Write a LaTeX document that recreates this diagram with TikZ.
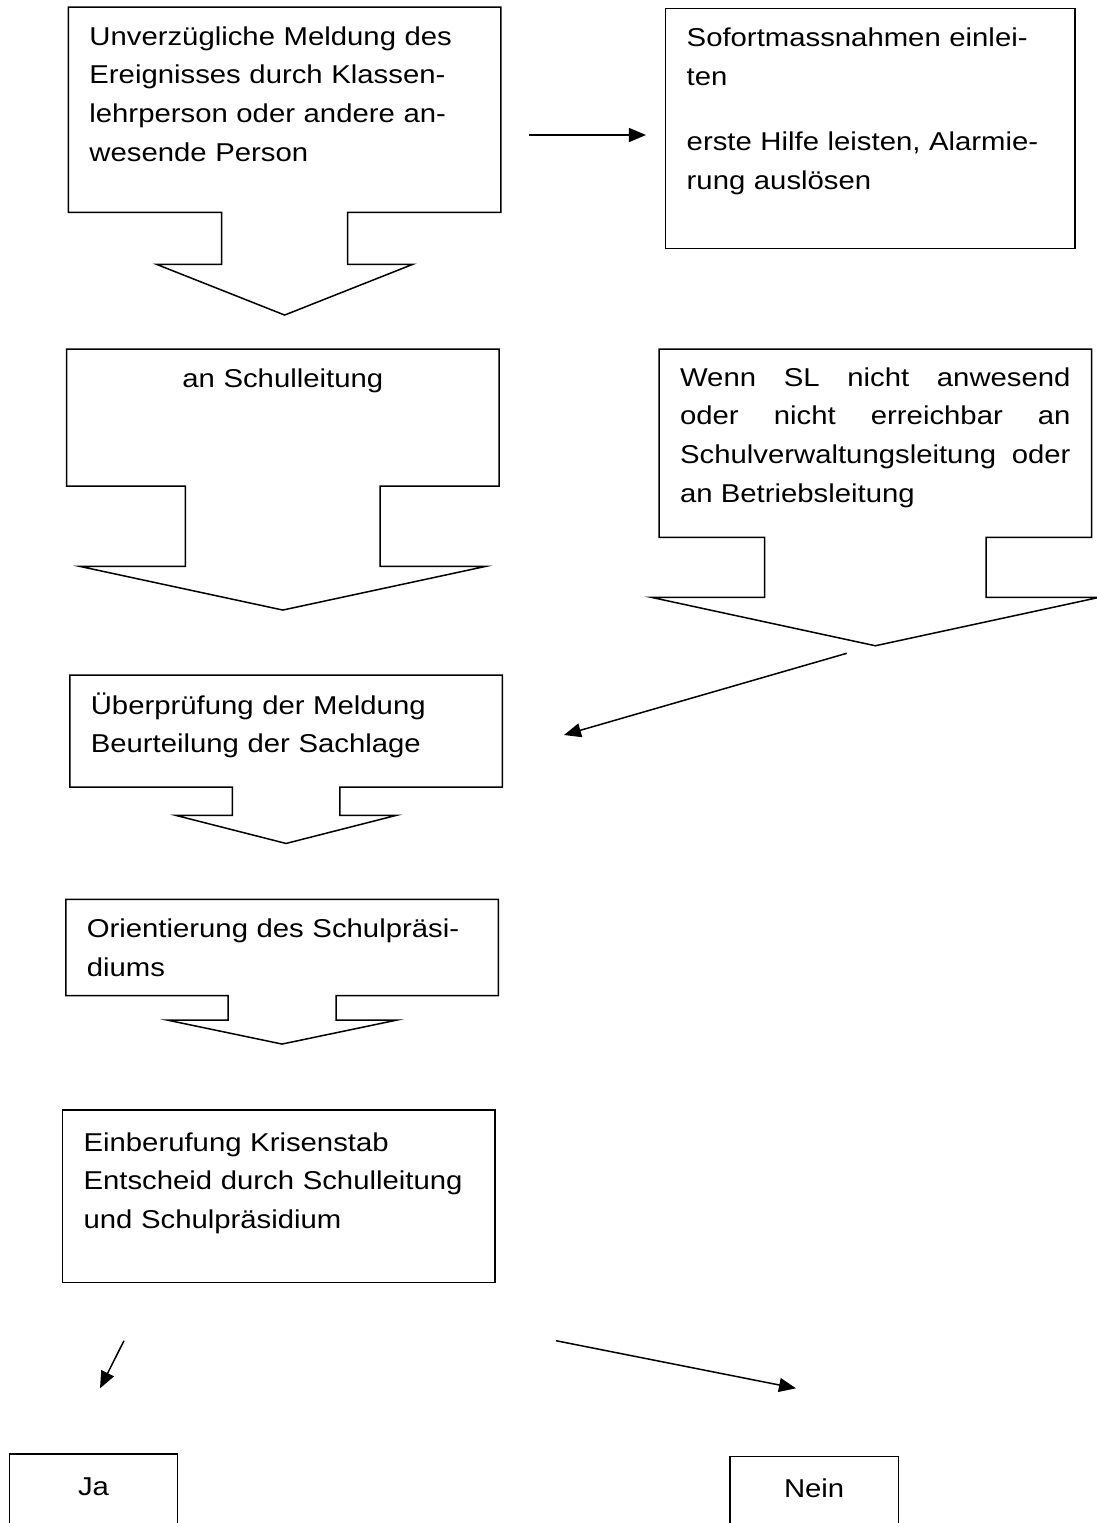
\documentclass[tikz,border=0pt]{standalone}
\usepackage{fontspec}
\setmainfont[FakeStretch=1.136]{Liberation Sans}
\usetikzlibrary{arrows.meta,shapes.arrows}
\tikzset{
  flowbox/.style={draw, line width=0.75pt, inner xsep=10.5pt, inner ysep=0pt,
                  text width=195.25pt, text height=19pt, align=left,
                  font={\fontsize{12.9pt}{19.45pt}\selectfont}},
  callout/.style={flowbox, shape=arrow box, arrow box head indent=0pt},
  arrow/.style={-{Triangle[length=8.5pt,width=7pt]}, line width=0.75pt}
}
\begin{document}
\begin{tikzpicture}[x=0.5pt, y=-0.5pt]
\useasboundingbox (0,0) rectangle (1097,1523);
\clip (0,0) rectangle (1097,1523);
\node[callout, text depth=83.65pt, arrow box arrows={south:51pt from border},
      arrow box shaft width=63pt, arrow box head extend=32.5pt, arrow box tip angle=136.8]
      (melden) at (284.65,109.65) {Unverzügliche Meldung des\\ Ereignisses durch Klassen-\\ lehrperson oder andere an-\\ wesende Person};
\node[flowbox, text width=183.65pt, text depth=101pt] (sofort) at (870.35,128.3)
      {Sofortmassnahmen einlei-\\ ten\\[13pt] erste Hilfe leisten, Alarmie-\\ rung auslösen};
\node[callout, align=center, text depth=49.5pt, arrow box arrows={south:61.65pt from border},
      arrow box shaft width=97.35pt, arrow box head extend=52.6pt, arrow box tip angle=155.7]
      (schulleitung) at (282.8,417.5) {an Schulleitung};
\node[callout, align=justify, text height=18.5pt, text depth=75.65pt, arrow box arrows={south:53.85pt from border},
      arrow box shaft width=110.8pt, arrow box head extend=56.65pt, arrow box tip angle=155.6]
      (vertretung) at (875.35,443.15) {Wenn SL nicht anwesend\linebreak oder nicht erreichbar an\linebreak Schulverwaltungsleitung oder\linebreak an Betriebsleitung};
\node[callout, text height=19.5pt, text depth=36.5pt, arrow box arrows={south:27.85pt from border},
      arrow box shaft width=53.75pt, arrow box head extend=28.125pt, arrow box tip angle=151.4]
      (pruefung) at (286.05,731) {Überprüfung der Meldung\\ Beurteilung der Sachlage};
\node[callout, text depth=29.2pt, arrow box arrows={south:23.8pt from border},
      arrow box shaft width=54pt, arrow box head extend=30.375pt, arrow box tip angle=156.4]
      (orientierung) at (282.05,947.5) {Orientierung des Schulpräsi-\\ diums};
\node[flowbox, text height=20.5pt, text depth=65.85pt] (krisenstab) at (278.85,1196.35)
      {Einberufung Krisenstab\\ Entscheid durch Schulleitung\\ und Schulpräsidium};
\node[flowbox, text width=63.2pt, align=center, text height=20.5pt, text depth=49.5pt] (ja) at (93.5,1524) {Ja};
\node[flowbox, text width=63.15pt, align=center, text height=20.5pt, text depth=49.5pt] (nein) at (814.15,1526.7) {Nein};
\coordinate (m1) at (528.6,135);
\coordinate (v1) at (846.7,653.3);
\coordinate (v2) at (564,735);
\coordinate (ja1) at (124,1340.7);
\coordinate (ja2) at (100,1388.3);
\coordinate (nein1) at (556,1340.7);
\coordinate (nein2) at (796,1388.3);
\draw[arrow, shorten >=9.5pt] (m1) -- (m1 -| sofort.west);
\draw[arrow] (v1) -- (v2);
\draw[arrow] (ja1) -- (ja2);
\draw[arrow] (nein1) -- (nein2);
\end{tikzpicture}
\end{document}
